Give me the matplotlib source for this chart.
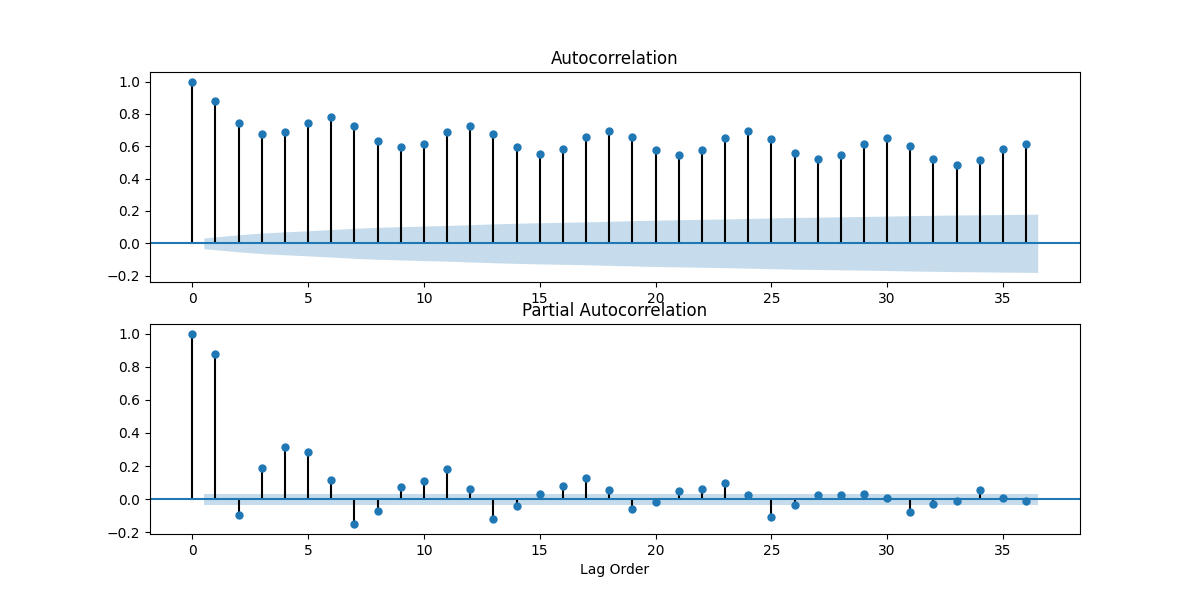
import numpy as np
import matplotlib
matplotlib.use("Agg")
import matplotlib.pyplot as plt

lags = np.arange(37)
acf_vals = [1.000, 0.880, 0.743, 0.677, 0.687, 0.743, 0.781, 0.725, 0.632, 0.594,
            0.613, 0.687, 0.725, 0.677, 0.594, 0.551, 0.582, 0.656, 0.694, 0.656,
            0.576, 0.545, 0.576, 0.650, 0.694, 0.644, 0.557, 0.520, 0.545, 0.613,
            0.650, 0.600, 0.520, 0.483, 0.514, 0.582, 0.613]
pacf_vals = [1.000, 0.879, -0.097, 0.186, 0.314, 0.283, 0.119, -0.152, -0.069, 0.077,
             0.113, 0.180, 0.059, -0.117, -0.043, 0.034, 0.083, 0.126, 0.053, -0.057,
             -0.014, 0.047, 0.059, 0.101, 0.028, -0.105, -0.032, 0.028, 0.028, 0.034,
             0.010, -0.075, -0.026, -0.008, 0.053, 0.010, -0.008]
n_obs = 3500
z = 1.96

acf_arr = np.array(acf_vals)
pacf_arr = np.array(pacf_vals)

# Bartlett confidence band for ACF (as statsmodels)
varacf = np.ones(len(acf_arr)) / n_obs
varacf[0] = 0
varacf[1] = 1.0 / n_obs
varacf[2:] *= 1 + 2 * np.cumsum(acf_arr[1:-1] ** 2)
acf_band = z * np.sqrt(varacf)
pacf_band = np.full(len(pacf_arr), z / np.sqrt(n_obs))

fig, axes = plt.subplots(2, 1, figsize=(12, 6), dpi=100)

def plot_corr(ax, vals, band, title):
    ax.vlines(lags, [0], vals, colors="black")
    ax.axhline(0, color="C0")
    ax.plot(lags, vals, marker="o", markersize=5, linestyle="None", color="C0")
    x = lags[1:].astype(float).copy()
    x[0] -= 0.5
    x[-1] += 0.5
    ax.fill_between(x, -band[1:], band[1:], alpha=0.25, color="C0", linewidth=0)
    ax.set_title(title)

plot_corr(axes[0], acf_arr, acf_band, "Autocorrelation")
plot_corr(axes[1], pacf_arr, pacf_band, "Partial Autocorrelation")
axes[1].set_xlabel("Lag Order")

fig.savefig("out.png", dpi=100)
